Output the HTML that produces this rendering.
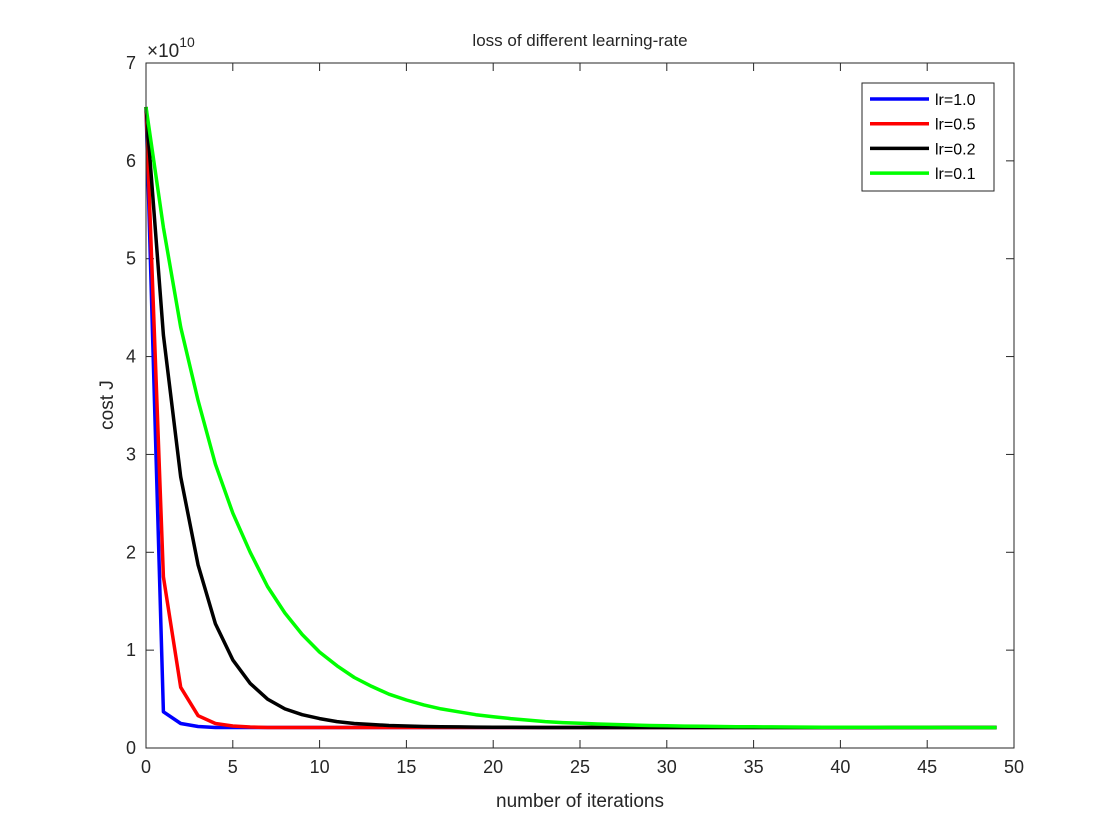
<!DOCTYPE html>
<html><head><meta charset="utf-8"><style>
html,body{margin:0;padding:0;background:#fff;}
svg{display:block;font-family:"Liberation Sans",Helvetica,Arial,sans-serif;}
</style></head><body>
<svg id="chart" width="1120" height="840" viewBox="0 0 1120 840">
<rect x="0" y="0" width="1120" height="840" fill="#fff"/>
<text x="580" y="46" font-size="17" text-anchor="middle" fill="#262626">loss of different learning-rate</text>
<text x="580" y="807" font-size="19" text-anchor="middle" fill="#262626">number of iterations</text>
<text x="113" y="405" font-size="19" text-anchor="middle" fill="#262626" transform="rotate(-90 113 405)">cost J</text>
<g id="ticks"></g>
<g id="series"></g>
<rect x="146" y="63" width="868" height="685" fill="none" stroke="#262626" stroke-width="1"/>
<text x="147" y="57" font-size="19" fill="#262626">×10<tspan font-size="14" dy="-10">10</tspan></text>
<g id="legend">
<rect x="862" y="83" width="132" height="108" fill="#fff" stroke="#262626" stroke-width="1"/>
</g>
</svg>
<script>
const xTicks=[0,5,10,15,20,25,30,35,40,45,50];
const yTicks=[0,1,2,3,4,5,6,7];
const seriesNames=["lr=1.0","lr=0.5","lr=0.2","lr=0.1"];
const seriesColors=["#0000ff","#ff0000","#000000","#00ff00"];
const lr10=[6.55,0.37,0.25,0.22,0.21,0.21,0.21,0.21,0.21,0.21,0.21,0.21,0.21,0.21,0.21,0.21,0.21,0.21,0.21,0.21,0.21,0.21,0.21,0.21,0.21,0.21,0.21,0.21,0.21,0.21,0.21,0.21,0.21,0.21,0.21,0.21,0.21,0.21,0.21,0.21,0.21,0.21,0.21,0.21,0.21,0.21,0.21,0.21,0.21,0.21];
const lr05=[6.55,1.75,0.62,0.33,0.25,0.225,0.215,0.21,0.21,0.21,0.21,0.21,0.21,0.21,0.21,0.21,0.21,0.21,0.21,0.21,0.21,0.21,0.21,0.21,0.21,0.21,0.21,0.21,0.21,0.21,0.21,0.21,0.21,0.21,0.21,0.21,0.21,0.21,0.21,0.21,0.21,0.21,0.21,0.21,0.21,0.21,0.21,0.21,0.21,0.21];
const lr02=[6.55,4.22,2.77,1.87,1.27,0.9,0.66,0.5,0.4,0.34,0.3,0.27,0.25,0.24,0.23,0.225,0.22,0.218,0.216,0.214,0.213,0.212,0.211,0.21,0.21,0.21,0.21,0.21,0.21,0.21,0.21,0.21,0.21,0.21,0.21,0.21,0.21,0.21,0.21,0.21,0.21,0.21,0.21,0.21,0.21,0.21,0.21,0.21,0.21,0.21];
const lr01=[6.55,5.32,4.3,3.55,2.9,2.4,2.0,1.65,1.38,1.16,0.98,0.84,0.72,0.63,0.55,0.49,0.44,0.4,0.37,0.34,0.32,0.3,0.285,0.27,0.26,0.252,0.245,0.24,0.235,0.23,0.227,0.224,0.222,0.22,0.218,0.217,0.216,0.215,0.214,0.213,0.213,0.212,0.212,0.211,0.211,0.211,0.21,0.21,0.21,0.21];
const allSeries=[lr10,lr05,lr02,lr01];
const NS="http://www.w3.org/2000/svg";
const X0=146,X1=1014,Y0=748,Y1=63;
function sx(v){return X0+(v-0)/(50-0)*(X1-X0);}
function sy(v){return Y0-(v-0)/(7-0)*(Y0-Y1);}
const tg=document.getElementById('ticks');
function mk(tag,attrs,parent){const e=document.createElementNS(NS,tag);for(const k in attrs)e.setAttribute(k,attrs[k]);parent.appendChild(e);return e;}
xTicks.forEach(t=>{
  const x=sx(t);
  const a=mk('line',{x1:x,x2:x,y1:Y0,y2:Y0-8,stroke:'#262626'},tg);
  
  
  const b=mk('line',{x1:x,x2:x,y1:Y1,y2:Y1+8,stroke:'#262626'},tg);
  
  
  const l=mk('text',{x:x,y:Y0+25,'font-size':18,'text-anchor':'middle',fill:'#262626'},tg);
  l.textContent=t;
  
  
});
yTicks.forEach(t=>{
  const y=sy(t);
  const a=mk('line',{x1:X0,x2:X0+8,y1:y,y2:y,stroke:'#262626'},tg);
  
  
  const b=mk('line',{x1:X1,x2:X1-8,y1:y,y2:y,stroke:'#262626'},tg);
  
  
  const l=mk('text',{x:X0-10,y:y+6,'font-size':18,'text-anchor':'end',fill:'#262626'},tg);
  l.textContent=t;
  
  
});
const sg=document.getElementById('series');
const lg=document.getElementById('legend');
allSeries.forEach((d,i)=>{
  const pts=d.map((v,k)=>sx(k).toFixed(1)+','+sy(v).toFixed(1)).join(' ');
  const p=mk('polyline',{points:pts,fill:'none',stroke:seriesColors[i],'stroke-width':3.5,'stroke-linejoin':'round'},sg);
  
  
  const ly=99+i*24.7;
  const ll=mk('line',{x1:870,x2:929,y1:ly,y2:ly,stroke:seriesColors[i],'stroke-width':3.5},lg);
  
  
  const lt=mk('text',{x:935,y:ly+6,'font-size':16,fill:'#000'},lg);
  lt.textContent=seriesNames[i];
  
  
});
</script>
</body></html>
